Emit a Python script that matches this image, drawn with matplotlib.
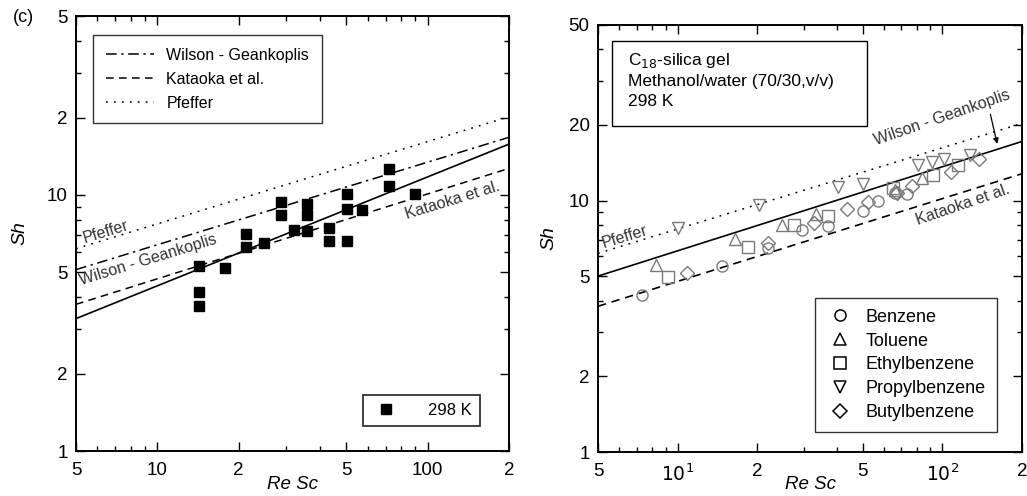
import matplotlib
matplotlib.use("Agg")
import matplotlib.pyplot as plt
from matplotlib.ticker import FixedLocator, FixedFormatter, LogLocator, NullFormatter
from matplotlib.lines import Line2D
from matplotlib.patches import Rectangle

plt.rcParams['font.family'] = ['Liberation Sans', 'DejaVu Sans']

# ---- data: panel (c), 298 K
resc_298 = [14.2, 14.2, 14.2, 17.8, 21.3, 21.3, 24.8, 28.6, 28.6, 32.1, 35.7, 35.7, 35.7,
            43.0, 43.0, 50.3, 50.3, 50.3, 57.3, 71.8, 71.8, 90.1]
sh_298 = [5.27, 4.18, 3.68, 5.19, 7.06, 6.27, 6.48, 9.36, 8.38, 7.30, 9.22, 8.38, 7.21,
          7.45, 6.59, 10.1, 8.79, 6.59, 8.71, 12.6, 10.8, 10.1]

# correlation lines, endpoints at Re Sc = 5 and 200
line_x = [5, 200]
left_fit = [3.29, 15.8]
left_wg = [5.11, 16.8]
left_kataoka = [3.74, 12.7]
left_pfeffer = [6.17, 20.2]

right_wg = [5.01, 17.2]
right_kataoka = [3.80, 12.8]
right_pfeffer = [6.17, 20.3]

# ---- data: C18-silica gel, compounds
benzene_x = [7.3, 14.7, 21.9, 29.5, 36.9, 50.2, 57.3, 66, 73.3]
benzene_y = [4.22, 5.51, 6.48, 7.66, 7.95, 9.06, 9.93, 10.7, 10.6]
toluene_x = [8.3, 16.5, 24.7, 33.3, 66, 83.6]
toluene_y = [5.56, 7.04, 8.02, 8.87, 11.0, 12.3]
ethyl_x = [9.2, 18.4, 27.6, 36.9, 65.3, 92.4, 115]
ethyl_y = [4.99, 6.52, 8.02, 8.71, 11.2, 12.7, 13.9]
propyl_x = [10.0, 20.2, 40.5, 50.2, 81.1, 91, 101, 127]
propyl_y = [7.78, 9.58, 11.3, 11.6, 13.9, 14.2, 14.6, 15.2]
butyl_x = [10.8, 21.9, 32.6, 43.5, 52.5, 67.3, 76.5, 108, 137]
butyl_y = [5.15, 6.78, 8.15, 9.27, 9.84, 10.7, 11.4, 13.0, 14.6]

xticks = [5, 10, 20, 50, 100, 200]
yticks = [1, 2, 5, 10, 20, 50]
left_xlabels = ["5", "10", "2", "5", "100", "2"]
left_ylabels = ["1", "2", "5", "10", "2", "5"]
right_xlabels = ["5", "$10^1$", "2", "5", "$10^2$", "2"]
right_ylabels = ["1", "2", "5", "10", "20", "50"]

fig = plt.figure(figsize=(10.27, 4.96), dpi=100)
axl = fig.add_axes([0.074, 0.0907, 0.4216, 0.877])
axr = fig.add_axes([0.5823, 0.0887, 0.4129, 0.861])


def style_axes(ax, xl, yl, xpad, ypad):
    ax.set_xscale("log")
    ax.set_yscale("log")
    ax.set_xlim(5, 200)
    ax.set_ylim(1, 50)
    ax.xaxis.set_major_locator(FixedLocator(xticks))
    ax.xaxis.set_major_formatter(FixedFormatter(xl))
    ax.yaxis.set_major_locator(FixedLocator(yticks))
    ax.yaxis.set_major_formatter(FixedFormatter(yl))
    ax.xaxis.set_minor_locator(LogLocator(base=10, subs=range(1, 10)))
    ax.yaxis.set_minor_locator(LogLocator(base=10, subs=range(1, 10)))
    ax.xaxis.set_minor_formatter(NullFormatter())
    ax.yaxis.set_minor_formatter(NullFormatter())
    ax.tick_params(which="both", direction="in", top=True, right=True, labelsize=13.5)
    ax.tick_params(which="major", length=6.5, width=1.0, pad=6)
    ax.tick_params(axis="x", which="major", pad=8)
    ax.tick_params(which="minor", length=3.5, width=1.0)
    for s in ax.spines.values():
        s.set_linewidth(1.4)
    ax.set_xlabel("Re Sc", style="italic", fontsize=13.5, labelpad=xpad)
    ax.set_ylabel("Sh", style="italic", fontsize=14, labelpad=ypad)


style_axes(axl, left_xlabels, left_ylabels, -2, 13)
style_axes(axr, right_xlabels, right_ylabels, -6, 8)

# ---- left panel
axl.plot(line_x, left_fit, color="black", lw=1.2)
wg_l, = axl.plot(line_x, left_wg, color="black", lw=1.1, dashes=(7, 3, 1.5, 3))
ka_l, = axl.plot(line_x, left_kataoka, color="black", lw=1.1, dashes=(5, 3.5))
pf_l, = axl.plot(line_x, left_pfeffer, color="black", lw=1.1, dashes=(1.2, 4))
pts, = axl.plot(resc_298, sh_298, ls="none", marker="s", ms=7, color="black")

leg1 = axl.legend([wg_l, ka_l, pf_l], ["Wilson - Geankoplis", "Kataoka et al.", "Pfeffer"],
                  loc="upper left", bbox_to_anchor=(0.039, 0.956), borderaxespad=0,
                  fontsize=11.5, frameon=True, fancybox=False, edgecolor="black",
                  handlelength=3.0, borderpad=0.8, labelspacing=0.55)
leg1.get_frame().set_linewidth(1.0)
axl.add_artist(leg1)
leg2 = axl.legend([Line2D([], [], ls="none", marker="s", ms=7, color="black")], ["298 K"],
                  loc="lower right", bbox_to_anchor=(0.933, 0.057), borderaxespad=0,
                  fontsize=12, fancybox=False, edgecolor="black", handletextpad=1.6,
                  borderpad=0.5, handlelength=1.8)
leg2.get_frame().set_linewidth(1.3)

axl.text(6.45, 7.2, "Pfeffer", rotation=17, fontsize=11.5, color="#333333", ha="center", va="center")
axl.text(9.2, 5.55, "Wilson - Geankoplis", rotation=17, fontsize=11.5, color="#333333",
         ha="center", va="center")
axl.text(124, 9.5, "Kataoka et al.", rotation=17, fontsize=11.5, color="#333333",
         ha="center", va="center")
fig.text(0.013, 0.965, "(c)", fontsize=13, ha="left", va="center")

# ---- right panel
axr.plot(line_x, right_wg, color="black", lw=1.2)
axr.plot(line_x, right_kataoka, color="black", lw=1.2, dashes=(5, 3.5))
axr.plot(line_x, right_pfeffer, color="black", lw=1.1, dashes=(1.2, 4))

gray = "#7a7a7a"
mk = dict(ls="none", ms=8, mfc="none", mew=1.0)
axr.plot(benzene_x, benzene_y, marker="o", mec=gray, **mk)
axr.plot(toluene_x, toluene_y, marker="^", mec=gray, **mk)
axr.plot(ethyl_x, ethyl_y, marker="s", mec=gray, **mk)
axr.plot(propyl_x, propyl_y, marker="v", mec=gray, **mk)
axr.plot(butyl_x, butyl_y, marker="D", mec=gray, ms=7, mfc="none", mew=1.0, ls="none")

names = ["Benzene", "Toluene", "Ethylbenzene", "Propylbenzene", "Butylbenzene"]
markers = ["o", "^", "s", "v", "D"]
handles = [Line2D([], [], ls="none", marker=m, ms=8 if m != "D" else 7, mfc="none",
                  mec="black", mew=1.1) for m in markers]
leg3 = axr.legend(handles, names, loc="lower right", bbox_to_anchor=(0.94, 0.047),
                  borderaxespad=0, fontsize=13, fancybox=False, edgecolor="black",
                  borderpad=0.6, labelspacing=0.38, handletextpad=0.6, handlelength=1.6)
leg3.get_frame().set_linewidth(1.0)

axr.add_patch(Rectangle((0.033, 0.763), 0.601, 0.2, transform=axr.transAxes,
                        fc="white", ec="black", lw=1.0, zorder=3))
axr.text(0.071, 0.94, "C$_{18}$-silica gel\nMethanol/water (70/30,v/v)\n298 K",
         transform=axr.transAxes, fontsize=12.5, va="top", ha="left", linespacing=1.4,
         zorder=4)

axr.text(6.3, 7.2, "Pfeffer", rotation=17, fontsize=11.5, color="#333333", ha="center", va="center")
axr.text(100, 21.4, "Wilson - Geankoplis", rotation=19, fontsize=11.5, color="#333333",
         ha="center", va="center")
axr.text(120, 9.6, "Kataoka et al.", rotation=19, fontsize=11.5, color="#333333",
         ha="center", va="center")
axr.annotate("", xy=(162, 16.4), xytext=(151, 22.6),
             arrowprops=dict(arrowstyle="-|>", color="black", lw=0.9, mutation_scale=8))

fig.savefig("out.png", dpi=100)
